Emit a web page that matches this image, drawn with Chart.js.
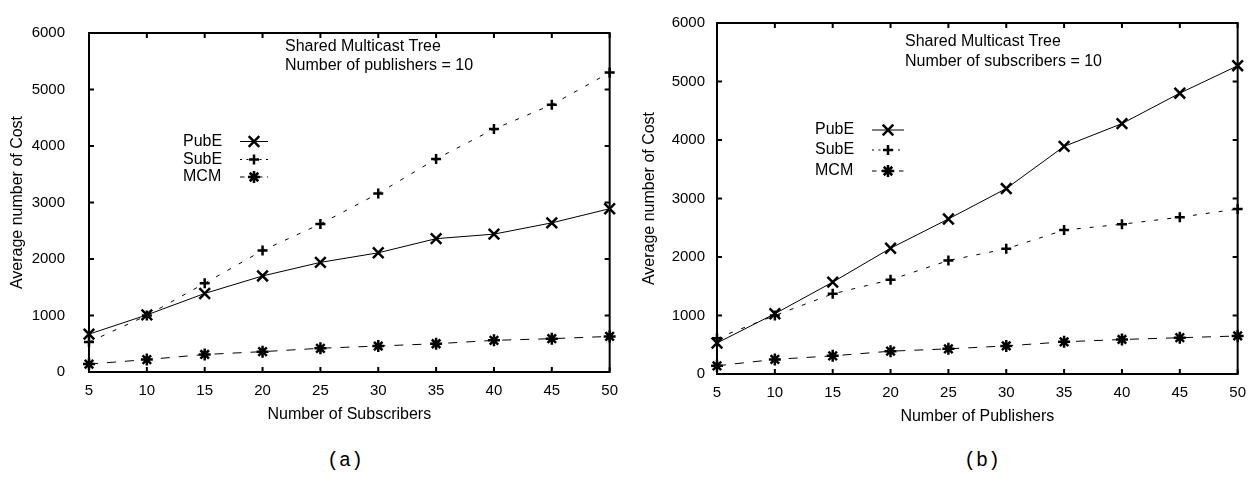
<!DOCTYPE html>
<html>
<head>
<meta charset="utf-8">
<script src="https://cdn.jsdelivr.net/npm/chart.js@4.4.0/dist/chart.umd.min.js"></script>
<style>
  body { margin: 0; background: #fff; width: 1256px; height: 478px; overflow: hidden; position: relative; }
  canvas { position: absolute; }
  #chartA { left: 0; top: 0; }
  #chartB { left: 628px; top: 2px; }
  .cap { position: absolute; top: 449px; font-family: "Liberation Mono", "Courier New", monospace; font-size: 20px; line-height: 24px; color: #000; }
  #capA { left: 327px; }
  #capB { left: 964px; }
</style>
</head>
<body>
<canvas id="chartA" width="628" height="430"></canvas>
<canvas id="chartB" width="628" height="430"></canvas>
<div class="cap" id="capA">(a)</div>
<div class="cap" id="capB">(b)</div>
<script>
const xValues = [5, 10, 15, 20, 25, 30, 35, 40, 45, 50];
const seriesNames = ["PubE", "SubE", "MCM"];

// (a) Number of publishers = 10, x = number of subscribers
const pubA = [670, 1010, 1390, 1700, 1940, 2110, 2360, 2440, 2640, 2890];
const subA = [530, 1000, 1570, 2150, 2620, 3160, 3770, 4300, 4730, 5300];
const mcmA = [140, 220, 310, 360, 420, 460, 500, 560, 590, 630];

// (b) Number of subscribers = 10, x = number of publishers
const pubB = [530, 1030, 1570, 2150, 2650, 3170, 3890, 4280, 4800, 5270];
const subB = [610, 1000, 1370, 1610, 1940, 2140, 2460, 2560, 2680, 2820];
const mcmB = [140, 250, 310, 390, 430, 480, 550, 590, 620, 650];

Chart.defaults.font.family = '"Liberation Sans", Arial, sans-serif';
Chart.defaults.color = "#000";

const styles = [
  { pointStyle: "crossRot", radius: 7.5, dash: [] },
  { pointStyle: "cross", radius: 5, dash: [4, 9] },
  { pointStyle: "star", radius: 6, dash: [9, 9] },
];

// box around the plot with inward ticks on all four sides
const framePlugin = {
  id: "frame",
  beforeDatasetsDraw(chart) {
    const { ctx, chartArea: a, scales } = chart;
    ctx.save();
    ctx.strokeStyle = "#000";
    ctx.lineWidth = 2;
    ctx.strokeRect(a.left, a.top, a.right - a.left, a.bottom - a.top);
    ctx.beginPath();
    scales.x.ticks.forEach((t) => {
      const px = scales.x.getPixelForValue(t.value);
      ctx.moveTo(px, a.bottom); ctx.lineTo(px, a.bottom - 5);
      ctx.moveTo(px, a.top); ctx.lineTo(px, a.top + 5);
    });
    scales.y.ticks.forEach((t) => {
      const py = scales.y.getPixelForValue(t.value);
      ctx.moveTo(a.left, py); ctx.lineTo(a.left + 5, py);
      ctx.moveTo(a.right, py); ctx.lineTo(a.right - 5, py);
    });
    ctx.stroke();
    ctx.restore();
  },
};

// in-plot notes and the key
const notesPlugin = {
  id: "notes",
  afterDraw(chart, args, opts) {
    const ctx = chart.ctx;
    ctx.save();
    ctx.fillStyle = "#000";
    ctx.font = '16px "Liberation Sans", Arial, sans-serif';
    ctx.textBaseline = "middle";
    ctx.textAlign = "left";
    opts.lines.forEach((line, i) => {
      ctx.fillText(line, opts.noteX, opts.noteY + i * opts.noteGap);
    });
    chart.data.datasets.forEach((ds, i) => {
      const y = opts.keyY[i];
      ctx.fillStyle = "#000";
      ctx.fillText(ds.label, opts.keyX, y);
      ctx.strokeStyle = "#000";
      ctx.lineWidth = 1;
      ctx.setLineDash(styles[i].dash.map((d) => d / 2));
      ctx.beginPath();
      ctx.moveTo(opts.sampleX0, y);
      ctx.lineTo(opts.sampleX1, y);
      ctx.stroke();
      ctx.setLineDash([]);
      ctx.lineWidth = 2.5;
      Chart.helpers.drawPoint(ctx, {
        pointStyle: styles[i].pointStyle,
        radius: styles[i].radius,
        rotation: 0,
        borderWidth: 2.5,
      }, (opts.sampleX0 + opts.sampleX1) / 2, y);
    });
    ctx.restore();
  },
};

function makeChart(id, values, xTitle, notes, yPad, yTitlePad) {
  const datasets = values.map((vals, i) => ({
    label: seriesNames[i],
    data: xValues.map((x, j) => ({ x: x, y: vals[j] })),
    borderColor: "#000",
    backgroundColor: "#000",
    borderWidth: 1,
    borderDash: styles[i].dash,
    pointStyle: styles[i].pointStyle,
    pointRadius: styles[i].radius,
    pointBorderWidth: 2.5,
    pointBorderColor: "#000",
    tension: 0,
    clip: false,
  }));

  return new Chart(document.getElementById(id), {
    type: "line",
    data: { datasets: datasets },
    options: {
      responsive: false,
      animation: false,
      layout: { padding: { top: 11, right: 18, left: 0, bottom: 0 } },
      plugins: {
        legend: { display: false },
        tooltip: { enabled: false },
        notes: notes,
      },
      scales: {
        x: {
          type: "linear",
          min: 5,
          max: 50,
          ticks: { stepSize: 5, padding: 10, font: { size: 15 } },
          grid: { display: false, drawTicks: false },
          border: { display: false },
          title: { display: true, text: xTitle, font: { size: 16 }, padding: { top: 0, bottom: 6 } },
          afterFit(scale) { scale.height = 58; },
        },
        y: {
          min: 0,
          max: 6000,
          ticks: { stepSize: 1000, padding: yPad, font: { size: 15 }, callback: (v) => String(v) },
          grid: { display: false, drawTicks: false },
          border: { display: false },
          title: { display: true, text: "Average number of Cost", font: { size: 16 }, padding: { top: yTitlePad, bottom: 0 } },
          afterFit(scale) { scale.width = 89; },
        },
      },
    },
    plugins: [framePlugin, notesPlugin],
  });
}

makeChart("chartA", [pubA, subA, mcmA], "Number of Subscribers", {
  lines: ["Shared Multicast Tree", "Number of publishers = 10"],
  noteX: 285, noteY: 47, noteGap: 19,
  keyX: 183, keyY: [141.5, 159.5, 177],
  sampleX0: 240, sampleX1: 268,
}, 24, 8);

makeChart("chartB", [pubB, subB, mcmB], "Number of Publishers", {
  lines: ["Shared Multicast Tree", "Number of subscribers = 10"],
  noteX: 277, noteY: 40, noteGap: 20,
  keyX: 187, keyY: [128, 148, 169],
  sampleX0: 244, sampleX1: 276,
}, 12, 12);
</script>
</body>
</html>
